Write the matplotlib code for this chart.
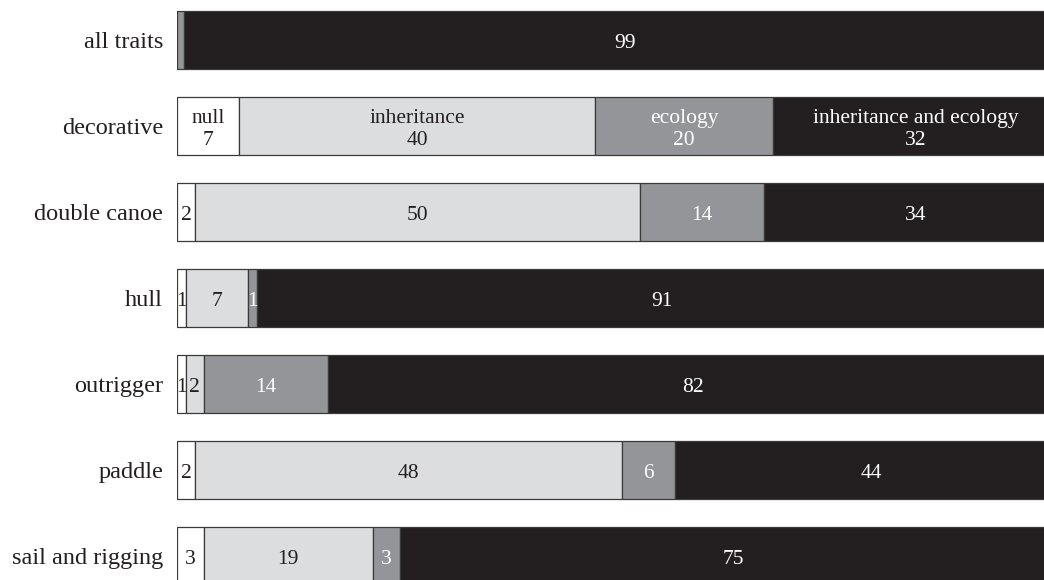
import numpy as np
import matplotlib
matplotlib.use('Agg')
import matplotlib.pyplot as plt

plt.rcParams['font.family'] = ['Liberation Serif', 'DejaVu Serif']

# rows of the chart, top to bottom
traits = ['all traits', 'decorative', 'double canoe', 'hull', 'outrigger',
          'paddle', 'sail and rigging']
null = [0, 7, 2, 1, 1, 2, 3]
inheritance = [0, 40, 50, 7, 2, 48, 19]
ecology = [0.8, 20, 14, 1, 14, 6, 3]
both = [99, 32, 34, 91, 82, 44, 75]

seg_names = ['null', 'inheritance', 'ecology', 'inheritance and ecology']
seg_colors = ['#ffffff', '#dcdddf', '#939598', '#231f20']
text_colors = ['#231f20', '#231f20', '#ffffff', '#ffffff']

fig = plt.figure(figsize=(10.44, 5.8), dpi=100)
# bars run past the right edge of the picture, as in the original
ax = fig.add_axes([177/1044, 0, 890/1044, 1])

series = [null, inheritance, ecology, both]
y = np.arange(len(traits))
left = np.zeros(len(traits))
for k, vals in enumerate(series):
    vals = np.array(vals, dtype=float)
    ax.barh(y, vals, left=left, height=0.675, color=seg_colors[k],
            edgecolor='#3a3a3a', linewidth=0.9)
    for i in range(len(traits)):
        if vals[i] < 1:
            continue
        cx = left[i] + vals[i]/2
        if traits[i] == 'decorative':
            txt = seg_names[k] + '\n' + str(int(round(vals[i])))
        else:
            txt = str(int(round(vals[i])))
        ax.text(cx, y[i] + 0.04, txt, ha='center', va='center', fontsize=15.5,
                color=text_colors[k], linespacing=1.2)
    left = left + vals

ax.set_xlim(0, 100)
ax.set_ylim((580-40)/86.0, -40/86.0)
ax.set_yticks(y)
ax.set_yticklabels(traits, fontsize=17.5, color='#231f20')
ax.tick_params(axis='y', length=0, pad=10)
ax.set_xticks([])
for s in ax.spines.values():
    s.set_visible(False)

fig.savefig('out.png', dpi=100)
